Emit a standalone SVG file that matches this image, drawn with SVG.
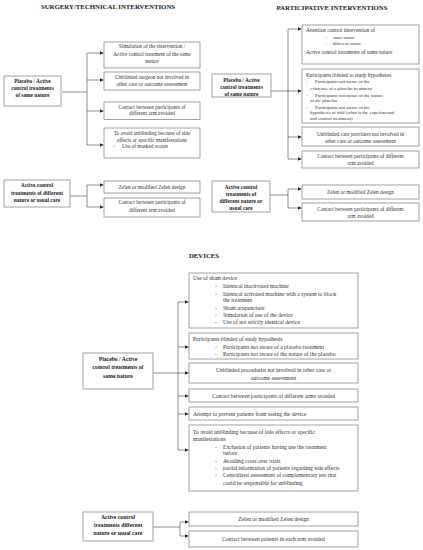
<svg xmlns="http://www.w3.org/2000/svg" width="423" height="550" viewBox="0 0 423 550">
<defs>
<marker id="ah" markerUnits="userSpaceOnUse" markerWidth="4" markerHeight="4" refX="4" refY="2" orient="auto"><path d="M0,0 L4,2 L0,4 z" fill="#222"/></marker>
</defs>
<style>
.bx{fill:#fff;stroke:#7a7a7a;stroke-width:0.7}
.t{font-family:"Liberation Serif",serif;font-size:5.3px;fill:#333}
.d{font-family:"Liberation Serif",serif;font-size:5.6px;fill:#333}
.c{text-anchor:middle}
.n{font-family:"Liberation Serif",serif;font-size:5.4px;font-weight:bold;fill:#222;text-anchor:middle}
.h{font-family:"Liberation Serif",serif;font-size:6.8px;font-weight:bold;fill:#222;text-anchor:middle}
.ln{fill:none;stroke:#444;stroke-width:0.6}
.ar{fill:none;stroke:#444;stroke-width:0.6;marker-end:url(#ah)}
</style>
<rect width="423" height="550" fill="#fff"/>

<text class="h" x="108" y="8.5">SURGERY/TECHNICAL INTERVENTIONS</text>
<text class="h" x="332" y="9.5">PARTICIPATIVE INTERVENTIONS</text>
<text class="h" x="204" y="257.5">DEVICES</text>

<g id="connectors">
<!-- surgery top -->
<path class="ln" d="M62,92 H87 M87,53 V145"/>
<path class="ar" d="M87,53 H103.5"/>
<path class="ar" d="M87,80 H103.5"/>
<path class="ar" d="M87,111 H103.5"/>
<path class="ar" d="M87,145 H103.5"/>
<!-- surgery bottom -->
<path class="ln" d="M70,196 H87 M87,185 V207"/>
<path class="ar" d="M87,185 H103.5"/>
<path class="ar" d="M87,207 H103.5"/>
<!-- participative top -->
<path class="ar" d="M271,91 H301.5"/>
<path class="ln" d="M288,29 V159"/>
<path class="ar" d="M288,29 H301.5"/>
<path class="ar" d="M288,137 H301.5"/>
<path class="ar" d="M288,159 H301.5"/>
<!-- participative bottom -->
<path class="ln" d="M270,195 H288 M288,189 V208"/>
<path class="ar" d="M288,189 H301.5"/>
<path class="ar" d="M288,208 H301.5"/>
<!-- devices top -->
<path class="ar" d="M153,373 H188.5"/>
<path class="ln" d="M178,302 V450"/>
<path class="ar" d="M178,302 H188.5"/>
<path class="ar" d="M178,347 H188.5"/>
<path class="ar" d="M178,396 H188.5"/>
<path class="ar" d="M178,414 H188.5"/>
<path class="ar" d="M178,450 H188.5"/>
<!-- devices bottom -->
<path class="ln" d="M153,527 H180 M180,522 V536"/>
<path class="ar" d="M180,522 H188.5"/>
<path class="ar" d="M180,536 H188.5"/>
</g>

<!-- SURGERY -->
<g id="s-node1">
<rect class="bx" x="4" y="76" width="57" height="30"/>
<text class="n" x="32.5" y="83">Placebo / Active</text>
<text class="n" x="32.5" y="90">control treatments</text>
<text class="n" x="32.5" y="96.5">of same nature</text>
</g>
<g id="s-box1">
<rect class="bx" x="104" y="42" width="96" height="26"/>
<text class="t c" x="152" y="48">Simulation of the intervention /</text>
<text class="t c" x="152" y="55.5">Active control treatment of the same</text>
<text class="t c" x="152" y="62.5">nature</text>
</g>
<g id="s-box2">
<rect class="bx" x="104" y="72" width="96" height="18"/>
<text class="t c" x="152" y="79">Unblinded surgeon not involved in</text>
<text class="t c" x="152" y="86">other care or outcome assessment</text>
</g>
<g id="s-box3">
<rect class="bx" x="104" y="102" width="96" height="17.5"/>
<text class="t c" x="152" y="109">Contact between participants of</text>
<text class="t c" x="152" y="115">different  arm avoided</text>
</g>
<g id="s-box4">
<rect class="bx" x="104" y="128" width="96" height="30"/>
<text class="t c" x="152" y="135">To avoid unblinding because of side</text>
<text class="t c" x="152" y="141.5">effects or specific manifestations</text>
<text class="t" x="113" y="148">-</text>
<text class="t" x="122" y="148">Use of masked scores</text>
</g>
<g id="s-node2">
<rect class="bx" x="4" y="180" width="66" height="27"/>
<text class="n" x="37" y="187">Active control</text>
<text class="n" x="37" y="194.5">treatments of different</text>
<text class="n" x="37" y="202">nature or usual care</text>
</g>
<g id="s-box5">
<rect class="bx" x="104" y="181" width="96" height="12"/>
<text class="t c" x="152" y="189">Zelen or modified Zelen design</text>
</g>
<g id="s-box6">
<rect class="bx" x="104" y="198" width="96" height="19"/>
<text class="t c" x="152" y="204">Contact between participants of</text>
<text class="t c" x="152" y="211.5">different  arm avoided</text>
</g>

<!-- PARTICIPATIVE -->
<g id="p-node1">
<rect class="bx" x="212" y="74" width="59" height="23"/>
<text class="n" x="241.5" y="82">Placebo / Active</text>
<text class="n" x="241.5" y="89">control treatments</text>
<text class="n" x="241.5" y="96">of same nature</text>
</g>
<g id="p-boxA">
<rect class="bx" x="302" y="25" width="117" height="39"/>
<text class="t" x="306" y="32">Attention control intervention of</text>
<text class="t" x="325" y="38.5" style="font-size:4.6px">-</text>
<text class="t" x="333" y="38.5" style="font-size:4.6px">same nature</text>
<text class="t" x="325" y="44.5" style="font-size:4.6px">-</text>
<text class="t" x="333" y="44.5" style="font-size:4.6px">different nature</text>
<text class="t" x="306" y="54">Active control treatments of same nature</text>
</g>
<g id="p-boxB">
<rect class="bx" x="302" y="69" width="117" height="54"/>
<text class="t" x="306" y="77">Participants blinded to study hypotheses</text>
<text class="t" x="306" y="82.5" style="font-size:4.8px">-</text>
<text class="t" x="315" y="82.5" style="font-size:4.8px">Participants not aware of the</text>
<text class="t" x="310" y="89.5" style="font-size:4.8px">existence of  a  placebo treatment</text>
<text class="t" x="306" y="96.5" style="font-size:4.8px">-</text>
<text class="t" x="315" y="96.5" style="font-size:4.8px">Participants not aware of the nature</text>
<text class="t" x="310" y="102" style="font-size:4.8px">of the placebo</text>
<text class="t" x="306" y="108.5" style="font-size:4.8px">-</text>
<text class="t" x="315" y="108.5" style="font-size:4.8px">Participants not aware of the</text>
<text class="t" x="310" y="114" style="font-size:4.8px">hypothesis of trial (what is the experimental</text>
<text class="t" x="310" y="119.5" style="font-size:4.8px">and control treatment)</text>
</g>
<g id="p-boxC">
<rect class="bx" x="302" y="127" width="117" height="19"/>
<text class="t c" x="360.5" y="135.5">Unblinded care  providers not involved in</text>
<text class="t c" x="360.5" y="142.5">other care or outcome assessment</text>
</g>
<g id="p-boxD">
<rect class="bx" x="302" y="151" width="117" height="17"/>
<text class="t c" x="360.5" y="157.5">Contact between participants of different</text>
<text class="t c" x="360.5" y="164.5">arm avoided</text>
</g>
<g id="p-node2">
<rect class="bx" x="212" y="181" width="58" height="31"/>
<text class="n" x="241" y="189">Active control</text>
<text class="n" x="241" y="196">treatments of</text>
<text class="n" x="241" y="203">different nature or</text>
<text class="n" x="241" y="210">usual care</text>
</g>
<g id="p-boxE">
<rect class="bx" x="302" y="185" width="117" height="14"/>
<text class="t c" x="360.5" y="193.5">Zelen or modified Zelen design</text>
</g>
<g id="p-boxF">
<rect class="bx" x="302" y="203" width="117" height="18"/>
<text class="t c" x="360.5" y="210.5">Contact between participants of different</text>
<text class="t c" x="360.5" y="218">arm avoided</text>
</g>

<!-- DEVICES -->
<g id="d-node1">
<rect class="bx" x="83" y="353" width="70" height="36"/>
<text class="n" x="118" y="361" style="font-size:5.7px">Placebo / Active</text>
<text class="n" x="118" y="369" style="font-size:5.7px">control treatments of</text>
<text class="n" x="118" y="377.5" style="font-size:5.7px">same nature</text>
</g>
<g id="d-box1">
<rect class="bx" x="189" y="273" width="169" height="55"/>
<text class="d" x="193" y="280">Use of sham device</text>
<text class="d" x="215" y="288">-</text><text class="d" x="223" y="288">Identical inactivated machine</text>
<text class="d" x="215" y="296">-</text><text class="d" x="223" y="296">Identical activated machine with a system to block</text>
<text class="d" x="223" y="302">the treatment</text>
<text class="d" x="215" y="310">-</text><text class="d" x="223" y="310">Sham acupuncture</text>
<text class="d" x="215" y="317">-</text><text class="d" x="223" y="317">Simulation of use of the device</text>
<text class="d" x="215" y="324">-</text><text class="d" x="223" y="324">Use of not strictly identical device</text>
</g>
<g id="d-box2">
<rect class="bx" x="189" y="333" width="169" height="26"/>
<text class="d" x="193" y="341">Participants blinded of study hypothesis</text>
<text class="d" x="215" y="349">-</text><text class="d" x="223" y="349">Participants not aware of a placebo treatment</text>
<text class="d" x="215" y="356">-</text><text class="d" x="223" y="356">Participants not aware of the nature of the placebo</text>
</g>
<g id="d-box3">
<rect class="bx" x="189" y="363" width="169" height="20"/>
<text class="d c" x="273.5" y="372">Unblinded procedurist not involved in other care or</text>
<text class="d c" x="273.5" y="380">outcome assessment</text>
</g>
<g id="d-box4">
<rect class="bx" x="189" y="389" width="169" height="13"/>
<text class="d c" x="273.5" y="398">Contact between participants  of different arms avoided</text>
</g>
<g id="d-box5">
<rect class="bx" x="189" y="407" width="169" height="13"/>
<text class="d" x="193" y="416">Attempt to prevent patients from seeing the device</text>
</g>
<g id="d-box6">
<rect class="bx" x="189" y="425" width="169" height="66"/>
<text class="d" x="193" y="434">To avoid unblinding because of side effects or specific</text>
<text class="d" x="193" y="441">manifestations</text>
<text class="d" x="215" y="449">-</text><text class="d" x="223" y="449">Exclusion of patients having use the treatment</text>
<text class="d" x="223" y="455">before</text>
<text class="d" x="215" y="463">-</text><text class="d" x="223" y="463">Avoiding cross over trials</text>
<text class="d" x="215" y="470">-</text><text class="d" x="223" y="470">partial information of patients regarding side effects</text>
<text class="d" x="215" y="477">-</text><text class="d" x="223" y="477">Centralized assessment of complementary test that</text>
<text class="d" x="223" y="485">could be responsible for unblinding</text>
</g>
<g id="d-node2">
<rect class="bx" x="83" y="512" width="70" height="29"/>
<text class="n" x="118" y="519" style="font-size:5.7px">Active control</text>
<text class="n" x="118" y="527" style="font-size:5.7px">treatments different</text>
<text class="n" x="118" y="534.5" style="font-size:5.7px">nature or usual care</text>
</g>
<g id="d-box7">
<rect class="bx" x="189" y="512" width="169" height="14"/>
<text class="d c" x="273.5" y="520.5">Zelen or modified Zelen design</text>
</g>
<g id="d-box8">
<rect class="bx" x="189" y="531" width="169" height="16"/>
<text class="d c" x="273.5" y="541">Contact between patients in each arm avoided</text>
</g>
</svg>
